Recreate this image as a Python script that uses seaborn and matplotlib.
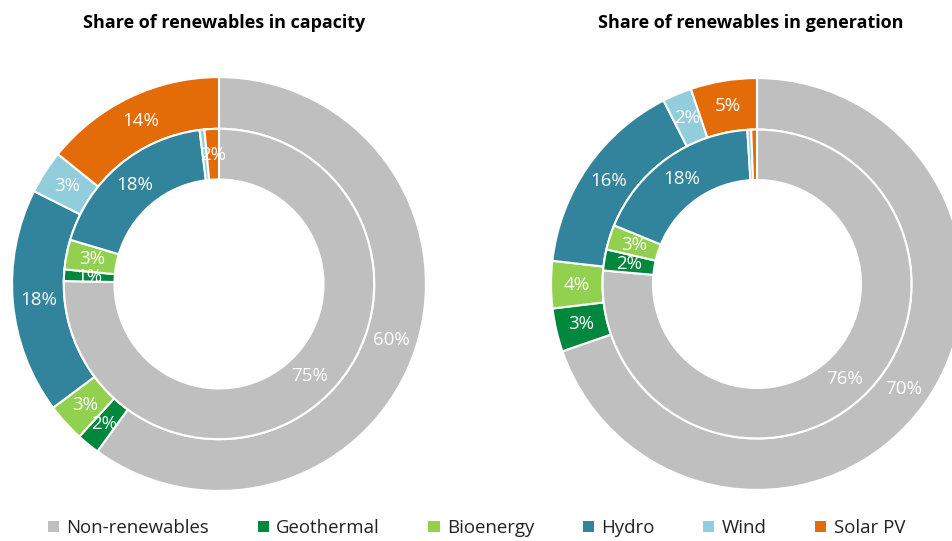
import matplotlib
matplotlib.use("Agg")
import matplotlib.pyplot as plt
import seaborn as sns
from matplotlib.patches import Patch

# Categories and colours
sources = ["Non-renewables", "Geothermal", "Bioenergy", "Hydro", "Wind", "Solar PV"]
colors = ["#BFBFBF", "#00873E", "#92D050", "#31849B", "#92CDDC", "#E36C09"]

# Shares (%)
cap_outer = [60.0, 1.8, 3.0, 17.6, 3.4, 14.2]
cap_inner = [75.3, 1.2, 3.1, 18.4, 0.5, 1.5]
gen_outer = [69.7, 3.4, 3.7, 15.7, 2.3, 5.2]
gen_inner = [76.4, 2.2, 2.6, 17.8, 0.4, 0.6]

titles = ["Share of renewables in capacity", "Share of renewables in generation"]

sns.set_theme(style="white")
plt.rcParams["font.family"] = ["Open Sans", "DejaVu Sans"]

W, H = 953, 541
fig = plt.figure(figsize=(W / 100, H / 100), dpi=100)


def pct(v):
    return f"{v:.0f}%" if v >= 1 else ""


def donut(cx, cy, r, outer, inner, title, title_x):
    ax = fig.add_axes([(cx - r) / W, (H - cy - r) / H, 2 * r / W, 2 * r / H])
    wedge = dict(edgecolor="white", linewidth=1.5)
    txt = dict(color="white", fontsize=13.5)
    ax.pie(outer, colors=colors, radius=1.0, startangle=90, counterclock=False,
           wedgeprops=dict(width=0.25, **wedge), autopct=pct, pctdistance=0.875,
           textprops=txt)
    ax.pie(inner, colors=colors, radius=0.75, startangle=90, counterclock=False,
           wedgeprops=dict(width=0.245, **wedge), autopct=pct, pctdistance=0.835,
           textprops=txt)
    ax.set_xlim(-1.01, 1.01)
    ax.set_ylim(-1.01, 1.01)
    ax.set_aspect("equal")
    ax.axis("off")
    fig.text(title_x / W, 1 - 23 / H, title, ha="center", va="center",
             fontsize=13, fontweight="bold", color="black")


donut(219, 284, 209, cap_outer, cap_inner, titles[0], 224)
donut(757, 284, 208, gen_outer, gen_inner, titles[1], 751)

handles = [Patch(facecolor=c, edgecolor="none", label=s) for s, c in zip(sources, colors)]
fig.legend(handles=handles, loc="center", bbox_to_anchor=(0.5, 1 - 528 / H), ncol=6,
           frameon=False, fontsize=13.4, handlelength=0.6, handleheight=0.6,
           handletextpad=0.4, columnspacing=2.6, labelcolor="#222222")

fig.savefig("out.png", dpi=100)
